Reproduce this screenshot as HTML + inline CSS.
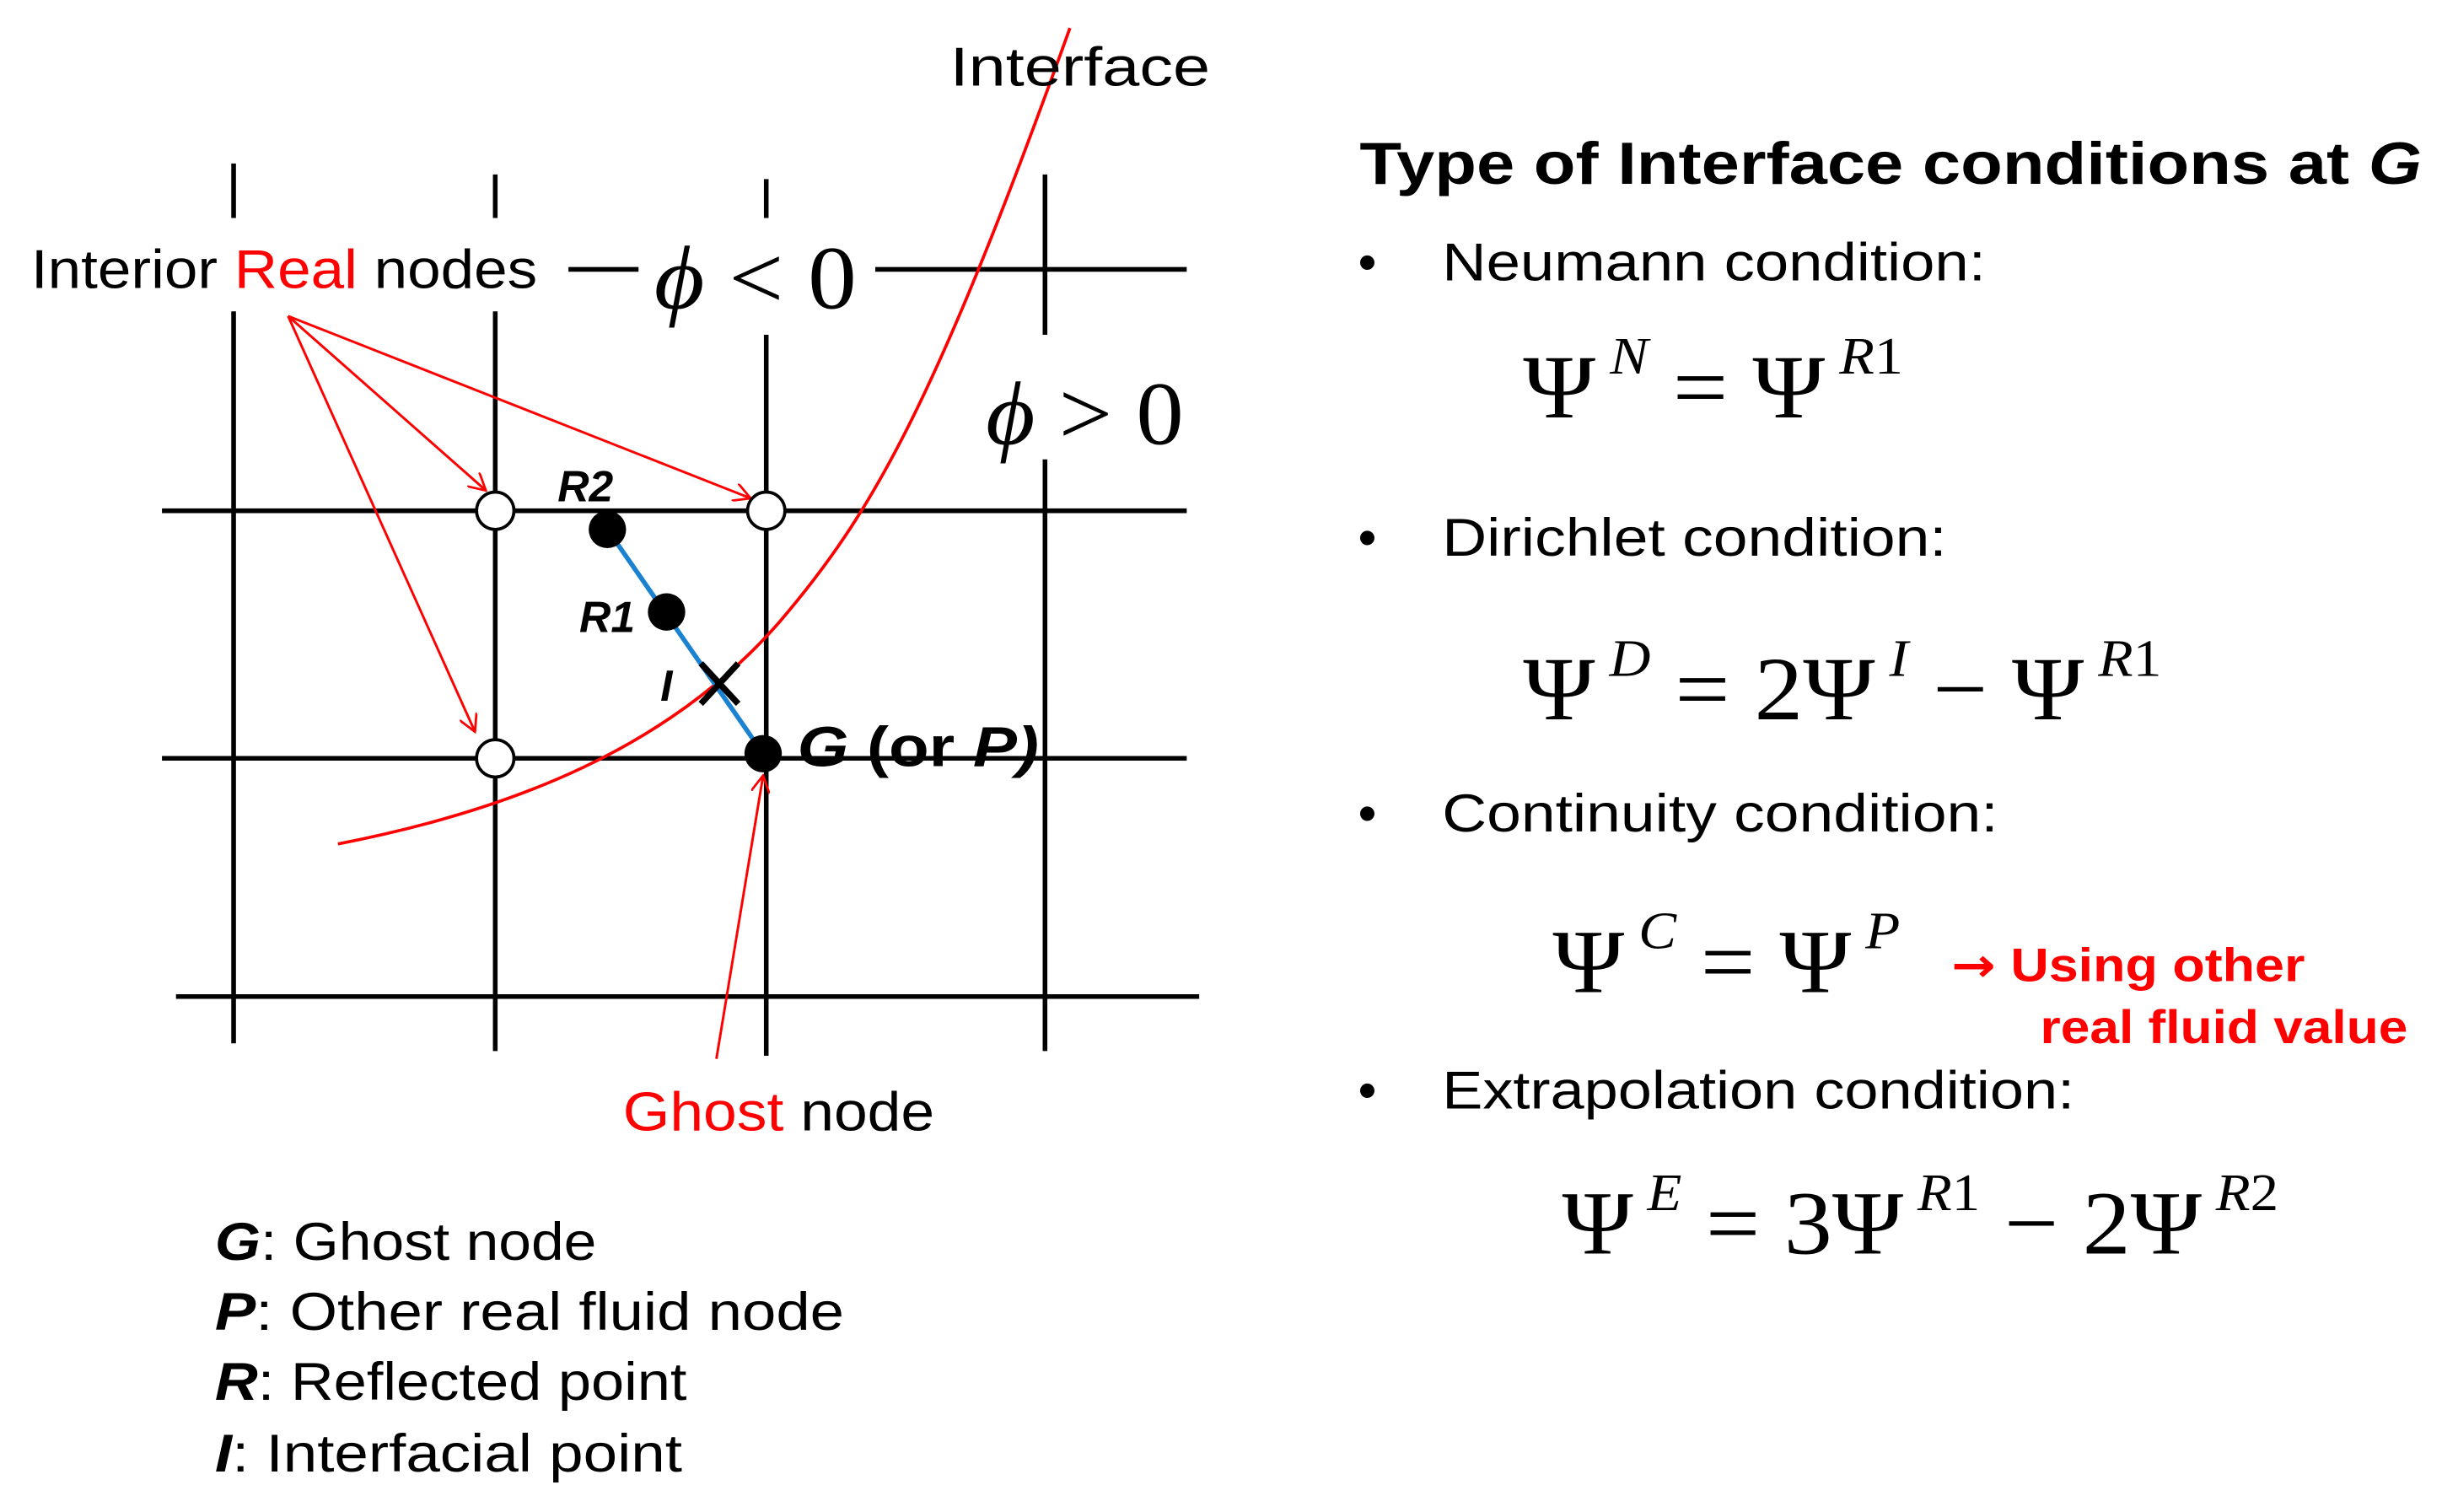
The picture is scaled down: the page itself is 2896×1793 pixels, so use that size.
<!DOCTYPE html>
<html><head><meta charset="utf-8"><style>
html,body{margin:0;padding:0;background:#fff;width:2896px;height:1793px;overflow:hidden}
svg{display:block}
.s{font-family:"Liberation Sans","DejaVu Sans",sans-serif}
.m{font-family:"Liberation Serif","DejaVu Serif",serif}
</style></head><body>
<svg width="2896" height="1793" viewBox="0 0 1568 971" preserveAspectRatio="none" xmlns="http://www.w3.org/2000/svg">
<defs>
<marker id="ar" markerWidth="12" markerHeight="12" refX="11" refY="6" orient="auto" markerUnits="userSpaceOnUse">
<path d="M0,0 L11,6 L0,12" fill="none" stroke="#f00" stroke-width="1.5"/></marker>
</defs>
<g stroke="#000" stroke-width="3" fill="none">
<line x1="150" y1="105" x2="150" y2="140"/><line x1="150" y1="200" x2="150" y2="670"/>
<line x1="318" y1="112" x2="318" y2="140"/><line x1="318" y1="200" x2="318" y2="675"/>
<line x1="492" y1="115" x2="492" y2="140"/><line x1="492" y1="215" x2="492" y2="678"/>
<line x1="671" y1="112" x2="671" y2="215"/><line x1="671" y1="295" x2="671" y2="675"/>
<line x1="365" y1="173" x2="410" y2="173"/><line x1="562" y1="173" x2="762" y2="173"/>
<line x1="104" y1="328" x2="762" y2="328"/>
<line x1="104" y1="487" x2="762" y2="487"/>
<line x1="113" y1="640" x2="770" y2="640"/>
</g>
<path d="M217,542 C330,520 430,480 500,400 C560,330 600,260 687,18" fill="none" stroke="#f00" stroke-width="2"/>
<g stroke="#f00" stroke-width="1.6" fill="none" marker-end="url(#ar)">
<line x1="185" y1="203" x2="312" y2="315"/>
<line x1="185" y1="203" x2="482" y2="320"/>
<line x1="185" y1="203" x2="305" y2="470"/>
<line x1="460" y1="680" x2="490" y2="498"/>
</g>
<line x1="390" y1="340" x2="490" y2="484" stroke="#1a82d0" stroke-width="3"/>
<g stroke="#000" stroke-width="2" fill="#fff">
<circle cx="318" cy="328" r="12"/><circle cx="492" cy="328" r="12"/><circle cx="318" cy="487" r="12"/>
</g>
<g fill="#000"><circle cx="390" cy="340" r="12"/><circle cx="428" cy="393" r="12"/><circle cx="490" cy="484" r="12"/></g>
<g stroke="#000" stroke-width="4"><line x1="450" y1="426" x2="474" y2="452"/><line x1="474" y1="426" x2="450" y2="452"/></g>
<g class="s" font-size="35" lengthAdjust="spacingAndGlyphs">
<text x="610" y="55" textLength="167" lengthAdjust="spacingAndGlyphs">Interface</text>
<text x="20" y="185" textLength="325" lengthAdjust="spacingAndGlyphs">Interior <tspan fill="#f00">Real</tspan> nodes</text>
<text x="400" y="726" textLength="200" lengthAdjust="spacingAndGlyphs"><tspan fill="#f00">Ghost</tspan> node</text>
</g>
<g class="s" font-size="28" font-weight="bold" font-style="italic">
<text x="358" y="322">R2</text><text x="372" y="406">R1</text><text x="424" y="450">I</text>
<text x="512" y="492" font-size="36" textLength="155" lengthAdjust="spacingAndGlyphs">G <tspan font-style="normal">(or</tspan> P)</text>
</g>
<g class="m" font-size="58">
<text x="420" y="198" textLength="130" lengthAdjust="spacingAndGlyphs"><tspan font-style="italic">ϕ</tspan> &lt; 0</text>
<text x="633" y="285" textLength="127" lengthAdjust="spacingAndGlyphs"><tspan font-style="italic">ϕ</tspan> &gt; 0</text>
</g>
<g class="s" font-size="34">
<text x="138" y="809" textLength="245" lengthAdjust="spacingAndGlyphs"><tspan font-weight="bold" font-style="italic">G</tspan>: Ghost node</text>
<text x="138" y="854" textLength="404" lengthAdjust="spacingAndGlyphs"><tspan font-weight="bold" font-style="italic">P</tspan>: Other real fluid node</text>
<text x="138" y="899" textLength="303" lengthAdjust="spacingAndGlyphs"><tspan font-weight="bold" font-style="italic">R</tspan>: Reflected point</text>
<text x="138" y="945" textLength="300" lengthAdjust="spacingAndGlyphs"><tspan font-weight="bold" font-style="italic">I</tspan>: Interfacial point</text>
</g>
<text class="s" x="873" y="118" font-size="38" font-weight="bold" textLength="682" lengthAdjust="spacingAndGlyphs">Type of Interface conditions at <tspan font-style="italic">G</tspan></text>
<g class="s" font-size="34">
<text x="872" y="180">•</text><text x="926" y="180" textLength="349" lengthAdjust="spacingAndGlyphs">Neumann condition:</text>
<text x="872" y="357">•</text><text x="926" y="357" textLength="324" lengthAdjust="spacingAndGlyphs">Dirichlet condition:</text>
<text x="872" y="534">•</text><text x="926" y="534" textLength="357" lengthAdjust="spacingAndGlyphs">Continuity condition:</text>
<text x="872" y="712">•</text><text x="926" y="712" textLength="406" lengthAdjust="spacingAndGlyphs">Extrapolation condition:</text>
</g>
<g class="m" font-size="58">
<text x="978" y="268" textLength="244" lengthAdjust="spacingAndGlyphs">Ψ<tspan font-size="34" font-style="italic" dy="-28"> N</tspan><tspan dy="28"> = Ψ</tspan><tspan font-size="34" dy="-28"><tspan font-style="italic"> R</tspan>1</tspan></text>
<text x="978" y="462" textLength="410" lengthAdjust="spacingAndGlyphs">Ψ<tspan font-size="34" font-style="italic" dy="-28"> D</tspan><tspan dy="28"> = 2Ψ</tspan><tspan font-size="34" font-style="italic" dy="-28"> I</tspan><tspan dy="28"> − Ψ</tspan><tspan font-size="34" dy="-28"><tspan font-style="italic"> R</tspan>1</tspan></text>
<text x="997" y="637" textLength="223" lengthAdjust="spacingAndGlyphs">Ψ<tspan font-size="34" font-style="italic" dy="-28"> C</tspan><tspan dy="28"> = Ψ</tspan><tspan font-size="34" font-style="italic" dy="-28"> P</tspan></text>
<text x="1003" y="805" textLength="460" lengthAdjust="spacingAndGlyphs">Ψ<tspan font-size="34" font-style="italic" dy="-28"> E</tspan><tspan dy="28"> = 3Ψ</tspan><tspan font-size="34" dy="-28"><tspan font-style="italic"> R</tspan>1</tspan><tspan dy="28"> − 2Ψ</tspan><tspan font-size="34" dy="-28"><tspan font-style="italic"> R</tspan>2</tspan></text>
</g>
<g class="s" font-size="30" font-weight="bold" fill="#f00">
<text x="1253" y="630" textLength="227" lengthAdjust="spacingAndGlyphs"><tspan font-family="DejaVu Sans">→</tspan> Using other</text>
<text x="1310" y="670" textLength="236" lengthAdjust="spacingAndGlyphs">real fluid value</text>
</g>
</svg>
</body></html>
